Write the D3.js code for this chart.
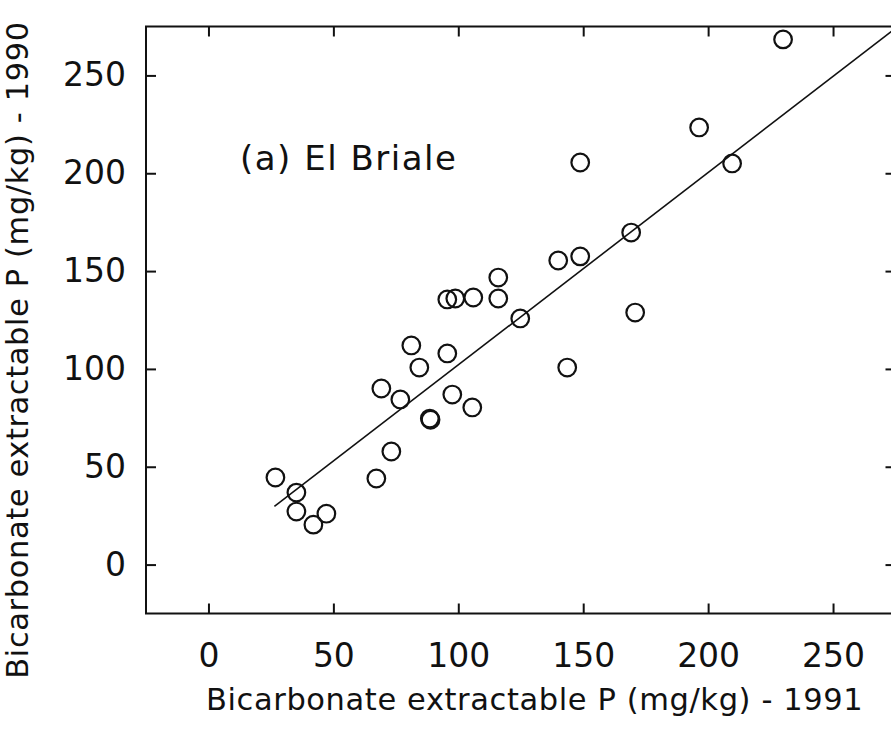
<!DOCTYPE html>
<html>
<head>
<meta charset="utf-8">
<script src="https://cdn.jsdelivr.net/npm/d3@7"></script>
<style>
  html, body { margin: 0; padding: 0; background: #fff; }
  svg { display: block; }
  text { font-family: "DejaVu Sans", sans-serif; fill: #111; }
</style>
</head>
<body>
<div id="chart"></div>
<script>
// Bicarbonate extractable P at El Briale: 1991 (x) versus 1990 (y), mg/kg
const p1991 = [230, 196.4, 148.8, 209.6, 169.2, 148.8, 140, 116, 116, 106, 98.8, 95.6,
               124.8, 170.8, 81.2, 95.6, 84.4, 143.6, 69.2, 76.8, 97.6, 105.6, 88.6, 88.9,
               73.2, 67.2, 26.8, 35.2, 35.2, 42, 47.2];
const p1990 = [268.4, 223.4, 205.5, 205, 169.7, 157.5, 155.4, 146.7, 136, 136.5, 136, 135.5,
               125.8, 128.8, 112, 107.9, 100.7, 100.7, 90, 84.4, 86.9, 80.3, 74.6, 74.0,
               57.8, 44, 44.5, 36.8, 27.1, 20.4, 26];

// Fitted regression line y = a + b x, drawn over the x range below
const fitIntercept = 3.75;
const fitSlope = 0.983;
const fitXRange = [26.4, 280];

const xTicks = [0, 50, 100, 150, 200, 250];
const yTicks = [0, 50, 100, 150, 200, 250];
const axisDomain = [-25, 275];

const panelLabel = "(a) El Briale";
const xTitle = "Bicarbonate extractable P (mg/kg) - 1991";
const yTitle = "Bicarbonate extractable P (mg/kg) - 1990";

const W = 891, H = 731;
const frameL = 146, frameR = 895.5, frameT = 26.5, frameB = 613.5;

const svg = d3.select("#chart").append("svg")
  .attr("width", W).attr("height", H);
svg.append("rect").attr("width", W).attr("height", H).attr("fill", "#fff");

const x = d3.scaleLinear().domain(axisDomain).range([frameL, frameR]);
const y = d3.scaleLinear().domain(axisDomain).range([frameB, frameT]);

const tickLen = 10;
const tickFont = 33;

function styleAxis(g, showLabels) {
  g.select(".domain").remove();
  g.selectAll(".tick line").attr("stroke", "#111").attr("stroke-width", 2);
  if (!showLabels) g.selectAll(".tick text").remove();
  else g.selectAll(".tick text")
        .style("font-family", "'DejaVu Sans', sans-serif")
        .style("font-size", tickFont + "px")
        .attr("fill", "#111");
}

// bottom axis with labels, ticks pointing inward
svg.append("g")
  .attr("transform", `translate(0,${frameB})`)
  .call(d3.axisBottom(x).tickValues(xTicks).tickSizeInner(-tickLen).tickSizeOuter(0).tickPadding(30))
  .call(g => styleAxis(g, true));

// top axis, ticks only
svg.append("g")
  .attr("transform", `translate(0,${frameT})`)
  .call(d3.axisTop(x).tickValues(xTicks).tickSizeInner(-tickLen).tickSizeOuter(0))
  .call(g => styleAxis(g, false));

// left axis with labels
svg.append("g")
  .attr("transform", `translate(${frameL},0)`)
  .call(d3.axisLeft(y).tickValues(yTicks).tickSizeInner(-tickLen).tickSizeOuter(0).tickPadding(20))
  .call(g => styleAxis(g, true));

// right axis, ticks only
svg.append("g")
  .attr("transform", `translate(${frameR},0)`)
  .call(d3.axisRight(y).tickValues(yTicks).tickSizeInner(-tickLen).tickSizeOuter(0))
  .call(g => styleAxis(g, false));

// plot frame
svg.append("rect")
  .attr("x", frameL).attr("y", frameT)
  .attr("width", frameR - frameL).attr("height", frameB - frameT)
  .attr("fill", "none").attr("stroke", "#111").attr("stroke-width", 2);

// clip for the regression line
svg.append("clipPath").attr("id", "plotClip")
  .append("rect").attr("x", frameL).attr("y", frameT)
  .attr("width", frameR - frameL).attr("height", frameB - frameT);

const fitPts = fitXRange.map(v => [v, fitIntercept + fitSlope * v]);
svg.append("path")
  .attr("clip-path", "url(#plotClip)")
  .attr("d", d3.line().x(d => x(d[0])).y(d => y(d[1]))(fitPts))
  .attr("fill", "none").attr("stroke", "#111").attr("stroke-width", 1.6);

// observations as open circles
const obs = p1991.map((v, i) => ({ x: v, y: p1990[i] }));
svg.append("g").selectAll("circle").data(obs).join("circle")
  .attr("cx", d => x(d.x)).attr("cy", d => y(d.y)).attr("r", 8.8)
  .attr("fill", "none").attr("stroke", "#111").attr("stroke-width", 2.2);

// panel label
svg.append("text")
  .attr("x", 240).attr("y", 170)
  .style("font-size", "34px").style("letter-spacing", "1.5px")
  .text(panelLabel);

// axis titles
svg.append("text")
  .attr("x", 206).attr("y", 710)
  .attr("text-anchor", "start")
  .style("font-size", "30.5px").style("letter-spacing", "0.6px")
  .text(xTitle);

svg.append("text")
  .attr("transform", `translate(28,350) rotate(-90)`)
  .attr("text-anchor", "middle")
  .style("font-size", "30.5px").style("letter-spacing", "0.6px")
  .text(yTitle);
</script>
</body>
</html>
